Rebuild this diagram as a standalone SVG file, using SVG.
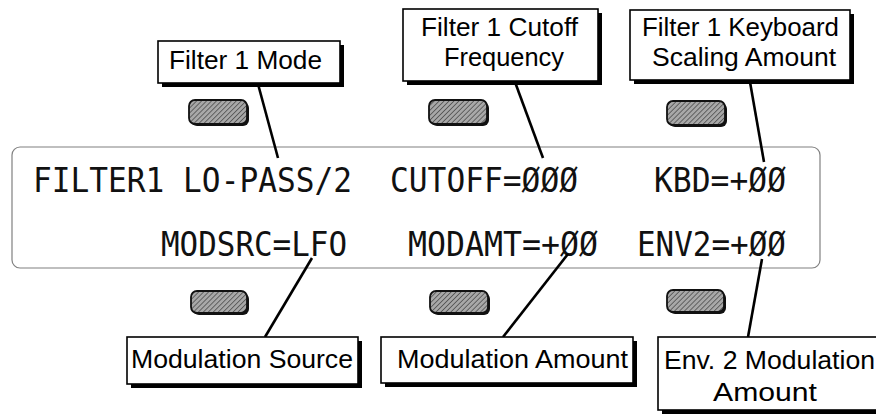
<svg xmlns="http://www.w3.org/2000/svg" width="876" height="414" viewBox="0 0 876 414">
  <defs>
    <pattern id="hatch" patternUnits="userSpaceOnUse" width="3.5" height="3.5" patternTransform="rotate(45)">
      <rect width="3.5" height="3.5" fill="#a8a8a8"/>
      <line x1="0" y1="0" x2="0" y2="3.5" stroke="#3a3a3a" stroke-width="1.3"/>
    </pattern>
  </defs>
  <style>
    .shadow { fill: #000; }
    .box { fill: #fff; stroke: #000; stroke-width: 1.6; }
    .lbl { font-family: "Liberation Sans", Arial, sans-serif; font-size: 26px; fill: #000; }
    .lcd { font-family: "DejaVu Sans Mono", "Liberation Mono", monospace; font-size: 33px; fill: #111; }
    .btn { fill: url(#hatch); stroke: #111; stroke-width: 1.8; }
    .btnsh { fill: #111; }
    .display { fill: #fff; stroke: #808080; stroke-width: 1.2; }
    .conn { stroke: #000; stroke-width: 2.6; fill: none; stroke-linecap: butt; }
  </style>

  <rect width="876" height="414" fill="#fff"/>

  <g id="display">
    <rect class="display" x="12" y="147" width="808" height="121" rx="8"/>
    <text class="lcd" x="33" y="192" textLength="319" lengthAdjust="spacingAndGlyphs">FILTER1 LO-PASS/2</text>
    <text class="lcd" x="390" y="192" textLength="188" lengthAdjust="spacingAndGlyphs">CUTOFF=ØØØ</text>
    <text class="lcd" x="654" y="192" textLength="132" lengthAdjust="spacingAndGlyphs">KBD=+ØØ</text>
    <text class="lcd" x="161" y="256" textLength="186" lengthAdjust="spacingAndGlyphs">MODSRC=LFO</text>
    <text class="lcd" x="408" y="256" textLength="190" lengthAdjust="spacingAndGlyphs">MODAMT=+ØØ</text>
    <text class="lcd" x="637" y="256" textLength="149" lengthAdjust="spacingAndGlyphs">ENV2=+ØØ</text>
  </g>

  <g id="buttons">
    <rect class="btnsh" x="191" y="102" width="58" height="24" rx="6"/>
    <rect class="btn" x="189" y="100" width="58" height="24" rx="6"/>
    <rect class="btnsh" x="431" y="102" width="58" height="24" rx="6"/>
    <rect class="btn" x="429" y="100" width="58" height="24" rx="6"/>
    <rect class="btnsh" x="669" y="103" width="58" height="24" rx="6"/>
    <rect class="btn" x="667" y="101" width="58" height="24" rx="6"/>
    <rect class="btnsh" x="193" y="293" width="56" height="22" rx="6"/>
    <rect class="btn" x="191" y="291" width="56" height="22" rx="6"/>
    <rect class="btnsh" x="432" y="293" width="58" height="22" rx="6"/>
    <rect class="btn" x="430" y="291" width="58" height="22" rx="6"/>
    <rect class="btnsh" x="669" y="292" width="57" height="22" rx="6"/>
    <rect class="btn" x="667" y="290" width="57" height="22" rx="6"/>
  </g>

  <g id="connectors">
    <line class="conn" x1="258" y1="84" x2="278" y2="158"/>
    <line class="conn" x1="515" y1="82" x2="543" y2="158"/>
    <line class="conn" x1="750" y1="82" x2="764" y2="162"/>
    <line class="conn" x1="312" y1="258" x2="265" y2="337"/>
    <line class="conn" x1="568" y1="254" x2="503" y2="337"/>
    <line class="conn" x1="762" y1="259" x2="748" y2="337"/>
  </g>

  <g id="filter1-mode">
    <rect class="shadow" x="162" y="45" width="182" height="42"/>
    <rect class="box" x="158" y="41" width="182" height="42"/>
    <text class="lbl" x="169" y="69" textLength="153" lengthAdjust="spacingAndGlyphs">Filter 1 Mode</text>
  </g>

  <g id="filter1-cutoff">
    <rect class="shadow" x="407" y="13" width="195" height="72"/>
    <rect class="box" x="403" y="9" width="195" height="72"/>
    <text class="lbl" x="421" y="36" textLength="157" lengthAdjust="spacingAndGlyphs">Filter 1 Cutoff</text>
    <text class="lbl" x="444" y="66" textLength="120" lengthAdjust="spacingAndGlyphs">Frequency</text>
  </g>

  <g id="filter1-keyboard">
    <rect class="shadow" x="634" y="14" width="220" height="70"/>
    <rect class="box" x="630" y="10" width="220" height="70"/>
    <text class="lbl" x="642" y="36" textLength="197" lengthAdjust="spacingAndGlyphs">Filter 1 Keyboard</text>
    <text class="lbl" x="652" y="66" textLength="184" lengthAdjust="spacingAndGlyphs">Scaling Amount</text>
  </g>

  <g id="modulation-source">
    <rect class="shadow" x="131" y="341" width="231" height="47"/>
    <rect class="box" x="127" y="337" width="231" height="47"/>
    <text class="lbl" x="131" y="368" textLength="222" lengthAdjust="spacingAndGlyphs">Modulation Source</text>
  </g>

  <g id="modulation-amount">
    <rect class="shadow" x="385" y="341" width="252" height="46"/>
    <rect class="box" x="381" y="337" width="252" height="46"/>
    <text class="lbl" x="397" y="368" textLength="231" lengthAdjust="spacingAndGlyphs">Modulation Amount</text>
  </g>

  <g id="env2-modulation-amount">
    <rect class="shadow" x="662" y="341" width="230" height="73"/>
    <rect class="box" x="658" y="337" width="230" height="73"/>
    <text class="lbl" x="664" y="369" textLength="211" lengthAdjust="spacingAndGlyphs">Env. 2 Modulation</text>
    <text class="lbl" x="713" y="401" textLength="104" lengthAdjust="spacingAndGlyphs">Amount</text>
  </g>
</svg>
